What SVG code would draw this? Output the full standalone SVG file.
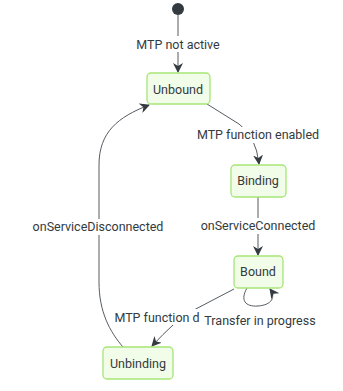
<svg xmlns="http://www.w3.org/2000/svg" width="343" height="391" viewBox="0 0 343 391">
<style>
.node rect{fill:#f1fce9;stroke:#a6e676;stroke-width:1.3}
text{font-family:Roboto,"Liberation Sans",sans-serif;font-size:12.5px;fill:#333a40;text-anchor:middle}
.edge{fill:none;stroke:#555c63;stroke-width:1}
</style>
<defs>
<marker id="arr" viewBox="0 0 10 10" refX="9" refY="5" markerWidth="10" markerHeight="10" markerUnits="userSpaceOnUse" orient="auto">
<path d="M0,0 L10,5 L0,10 L3,5 Z" fill="#333a40"/>
</marker>
</defs>
<rect width="343" height="391" fill="#fff"/>
<g id="connectors">
<path class="edge" d="M178,15 L178,72" marker-end="url(#arr)"/>
<path class="edge" d="M207,104 L239,124 Q256,136 259,164" marker-end="url(#arr)"/>
<path class="edge" d="M258,197 L258,255" marker-end="url(#arr)"/>
<path class="edge" d="M247,288 C240,300 245,307 258,306 C272,305 276,297 270,289" marker-end="url(#arr)"/>
<path class="edge" d="M234,289 L190,312 Q175,321 152,346" marker-end="url(#arr)"/>
<path class="edge" d="M123,347 C110,332 99,312 99,282 L99,165 C99,132 118,117 149,105" marker-end="url(#arr)"/>
</g>
<g id="labels">
<rect x="132" y="36" width="92" height="16" fill="#fff"/>
<text x="178" y="49">MTP not active</text>
<rect x="195" y="127" width="127" height="16" fill="#fff"/>
<text x="258" y="139">MTP function enabled</text>
<rect x="197" y="218" width="123" height="16" fill="#fff"/>
<text x="258" y="230">onServiceConnected</text>
<rect x="29" y="219" width="139" height="16" fill="#fff"/>
<text x="98" y="231">onServiceDisconnected</text>
<rect x="112" y="309" width="90" height="16" fill="#fff"/>
<text x="157" y="322">MTP function d</text>
<rect x="202" y="313" width="116" height="16" fill="#fff"/>
<text x="260" y="325">Transfer in progress</text>
</g>
<g id="start"><circle cx="178" cy="9" r="6" fill="#333a40"/></g>
<g id="Unbound" class="node"><rect x="147" y="73" width="63" height="31" rx="4"/><text x="178" y="94">Unbound</text></g>
<g id="Binding" class="node"><rect x="231" y="165" width="55" height="32" rx="4"/><text x="258" y="185">Binding</text></g>
<g id="Bound" class="node"><rect x="234" y="256" width="49" height="32" rx="4"/><text x="258" y="276">Bound</text></g>
<g id="Unbinding" class="node"><rect x="103" y="347" width="70" height="32" rx="4"/><text x="138" y="368">Unbinding</text></g>
</svg>
